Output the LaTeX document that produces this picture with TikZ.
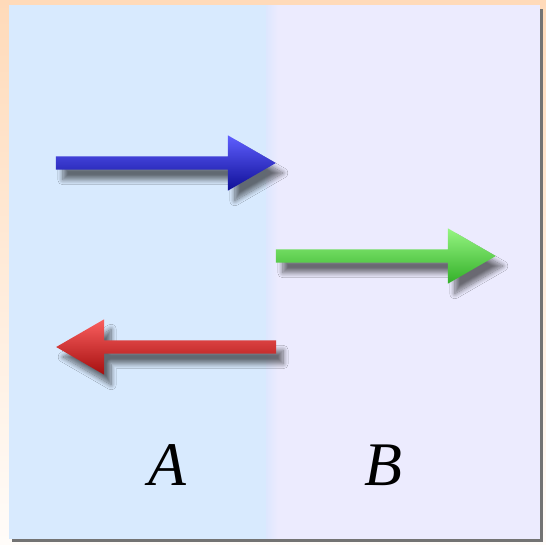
\documentclass[tikz,border=0pt]{standalone}
\usepackage{fontspec}
\setmainfont{Liberation Serif}
\usepackage{xcolor}
\usetikzlibrary{shapes.arrows,shadows.blur}

\definecolor{frameorange}{RGB}{255,218,185}
\definecolor{sidea}{RGB}{216,234,254}
\definecolor{sideb}{RGB}{236,235,254}

\begin{document}
\begin{tikzpicture}[x=1pt,y=-1pt,
    flowarrow/.style={single arrow,draw=none,minimum height=220pt,
      inner sep=6.5pt,single arrow head extend=21pt,single arrow tip angle=60,
      blur shadow={shadow xshift=7pt,shadow yshift=-10pt,
        shadow opacity=55,shadow blur radius=5pt,shadow blur steps=12}},
    region/.style={font=\fontsize{62}{62}\selectfont\itshape,inner sep=0pt}
  ]
    \useasboundingbox (0,0) rectangle (546,544);

    % frame and the two halves
    \shade[top color=frameorange,bottom color=frameorange!8] (0,0) rectangle (546,544);
    \fill[sidea] (8.5,5) rectangle (272,539);
    \fill[sideb] (272,5) rectangle (540,539);
    \shade[left color=sidea!92!blue!60,right color=sideb] (266,5) rectangle (278,539);
    \fill[black!55] (540,9) rectangle (543,542);
    \fill[black!55] (12,539) rectangle (543,542);

    % arrows
    \node[flowarrow,top color={rgb,255:red,95;green,95;blue,255},
      bottom color={rgb,255:red,15;green,15;blue,150}] (blue) at (160,163) {};
    \node[flowarrow,top color={rgb,255:red,150;green,245;blue,130},
      bottom color={rgb,255:red,50;green,175;blue,40}] (green) at (380,256) {};
    \node[flowarrow,shape border rotate=180,
      top color={rgb,255:red,250;green,95;blue,95},
      bottom color={rgb,255:red,165;green,15;blue,15}] (red) at (172,347) {};

    % labels
    \node[region] (labA) at (167,465) {A};
    \node[region] (labB) at (383,465) {B};
  \end{tikzpicture}
\end{document}
